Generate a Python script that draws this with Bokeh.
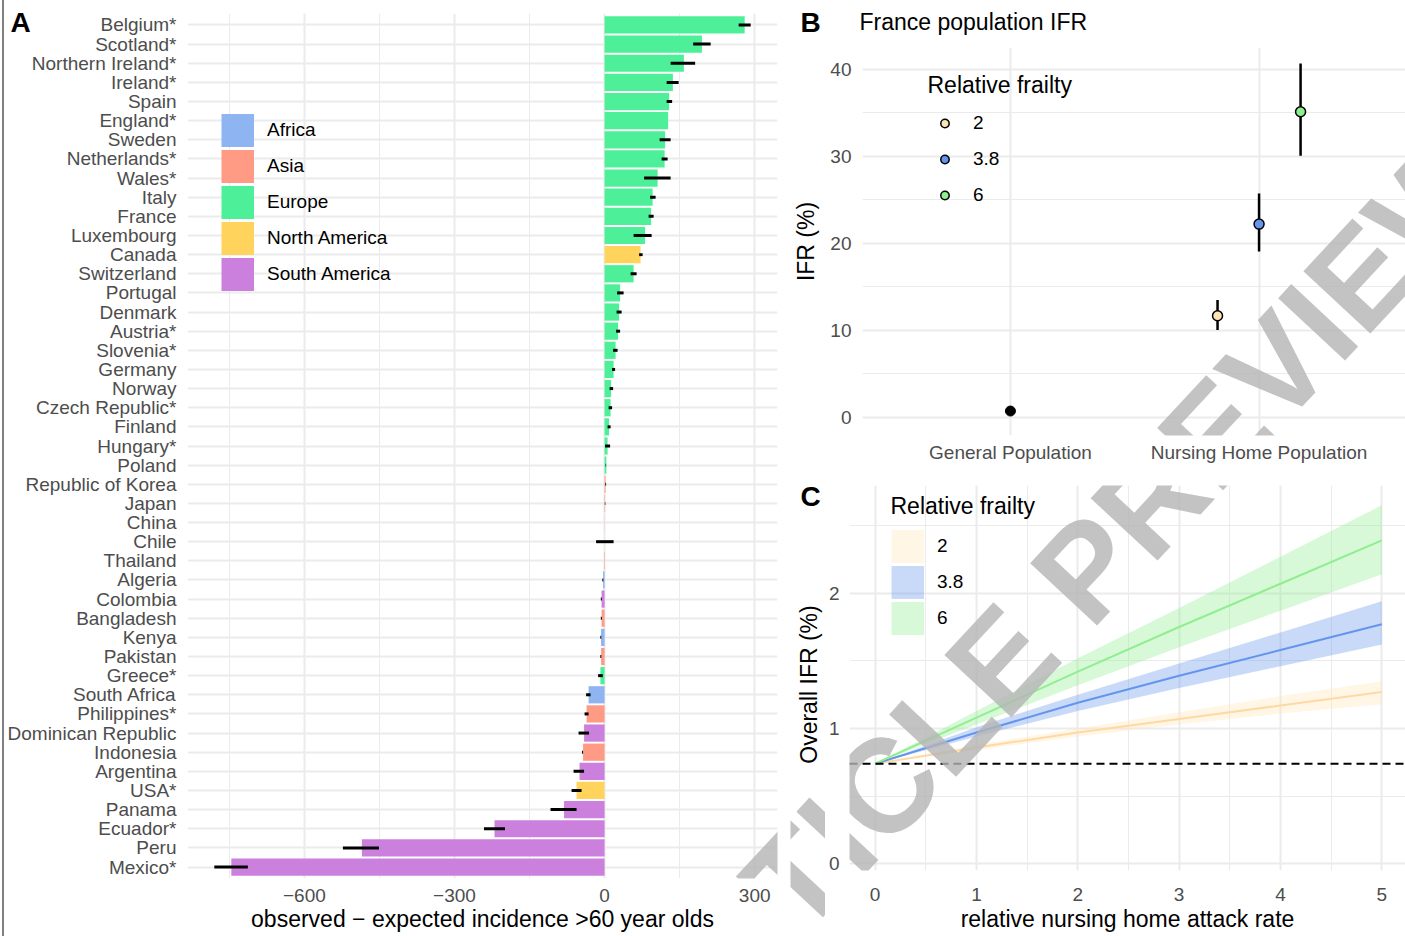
import math
from bokeh.plotting import figure
from bokeh.layouts import row, column
from bokeh.models import (ColumnDataSource, FactorRange, Range1d, FixedTicker,
                          Legend, LegendItem, Label, Span, Title)
from bokeh.embed import file_html
from bokeh.resources import INLINE

FONT = "Liberation Sans"
GRID = "#EBEBEB"
TICK = "#4D4D4D"
SMALL = "19px"
BIG = "23px"

# ---------------- Panel A data ----------------
countries = ["Belgium*", "Scotland*", "Northern Ireland*", "Ireland*", "Spain", "England*",
             "Sweden", "Netherlands*", "Wales*", "Italy", "France", "Luxembourg", "Canada",
             "Switzerland", "Portugal", "Denmark", "Austria*", "Slovenia*", "Germany", "Norway",
             "Czech Republic*", "Finland", "Hungary*", "Poland", "Republic of Korea", "Japan",
             "China", "Chile", "Thailand", "Algeria", "Colombia", "Bangladesh", "Kenya",
             "Pakistan", "Greece*", "South Africa", "Philippines*", "Dominican Republic",
             "Indonesia", "Argentina", "USA*", "Panama", "Ecuador*", "Peru", "Mexico*"]
continent = ["Europe", "Europe", "Europe", "Europe", "Europe", "Europe",
             "Europe", "Europe", "Europe", "Europe", "Europe", "Europe", "North America",
             "Europe", "Europe", "Europe", "Europe", "Europe", "Europe", "Europe",
             "Europe", "Europe", "Europe", "Europe", "Asia", "Asia",
             "Asia", "South America", "Asia", "Africa", "South America", "Asia", "Africa",
             "Asia", "Europe", "Africa", "Asia", "South America",
             "Asia", "South America", "North America", "South America", "South America",
             "South America", "South America"]
excess = [280, 194.5, 158.5, 136.5, 129, 127, 121, 120, 106, 96, 93, 81, 72, 58, 31,
          29, 27, 22, 18, 13, 12, 9, 6, 3.6, 2, 1, 0.3, 0, -1, -3, -6, -6, -7, -7,
          -8.4, -32, -36, -41, -43, -50, -56, -81, -220, -485, -746]
excess_lo = [268, 177, 132, 124, 124, 127, 110, 114, 79, 91, 88, 58, 69, 52, 25,
             24, 23, 17, 15, 10, 8, 6, 1, 2, 1.5, 0.5, 0.3, -17, -1, -4.5, -7.5, -7.5, -8.5, -8.5,
             -13, -37, -40, -52, -45, -62, -66, -108, -241, -523, -780]
excess_hi = [292, 212, 181, 148, 135, 127, 132, 126, 132, 102, 98, 94, 76, 64, 38,
             34, 31, 26, 21, 17, 15, 12, 11, 3, 3, 1.5, 0.3, 18, -1, -2.5, -5.5, -5.5, -6.5, -6.5,
             -3.6, -28, -32, -31, -43, -41, -46, -56, -199, -451, -713]

continents = ["Africa", "Asia", "Europe", "North America", "South America"]
continent_colors = ["#8EB4F2", "#FF9A85", "#4DF099", "#FFD35C", "#CC80DD"]

a_xticks = [-600, -300, 0, 300]
a_xtick_labels = ["\u2212600", "\u2212300", "0", "300"]
a_xminor = [-750, -450, -150, 150]

# ---------------- Panel B data ----------------
b_groups = ["General Population", "Nursing Home Population"]
gen_ifr = [0.74]
frailty_levels = ["2", "3.8", "6"]
frailty_colors = ["#FFE4B5", "#6495ED", "#90EE90"]
nh_ifr = [11.68, 22.2, 35.1]
nh_lo = [10.03, 19.06, 30.05]
nh_hi = [13.48, 25.72, 40.64]
b_yticks = [0, 10, 20, 30, 40]
b_yminor = [5, 15, 25, 35]

# ---------------- Panel C data ----------------
attack_rate = [0, 1, 2, 3, 4, 5]
ifr_line = {
    "2":   [0.74, 0.86, 0.97, 1.07, 1.17, 1.27],
    "3.8": [0.74, 0.97, 1.19, 1.39, 1.58, 1.77],
    "6":   [0.74, 1.08, 1.42, 1.75, 2.07, 2.39],
}
ifr_upper = {
    "2":   [0.74, 0.88, 1.00, 1.12, 1.24, 1.35],
    "3.8": [0.74, 1.01, 1.25, 1.48, 1.71, 1.94],
    "6":   [0.74, 1.13, 1.52, 1.89, 2.27, 2.65],
}
ifr_lower = {
    "2":   [0.74, 0.84, 0.94, 1.03, 1.11, 1.18],
    "3.8": [0.74, 0.94, 1.13, 1.30, 1.46, 1.62],
    "6":   [0.74, 1.03, 1.32, 1.60, 1.87, 2.14],
}
general_ifr_line = 0.739
c_line_colors = ["#FFD9A3", "#6495ED", "#90EE90"]
c_xticks = [0, 1, 2, 3, 4, 5]
c_xminor = [0.5, 1.5, 2.5, 3.5, 4.5]
c_yticks = [0, 1, 2]
c_yminor = [0.5, 1.5, 2.5]

WATERMARK = "ARTICLE PREVIEW"
WM_X, WM_Y = 1055, 600   # page position of the watermark's baseline centre


def no_align(p):
    try:
        p.frame_align = False
    except Exception:
        pass


def style_axes(p):
    p.outline_line_color = None
    p.background_fill_color = "white"
    p.border_fill_color = "white"
    for ax in p.axis:
        ax.axis_line_color = None
        ax.major_tick_line_color = None
        ax.minor_tick_line_color = None
        ax.major_tick_out = 0
        ax.major_tick_in = 0
        ax.minor_tick_out = 0
        ax.major_label_text_font = FONT
        ax.major_label_text_font_size = SMALL
        ax.major_label_text_color = TICK
        ax.axis_label_text_font = FONT
        ax.axis_label_text_font_size = BIG
        ax.axis_label_text_font_style = "normal"
        ax.axis_label_text_color = "black"
    for g in p.grid:
        g.grid_line_color = GRID
        g.grid_line_width = 2
        g.minor_grid_line_color = GRID
        g.minor_grid_line_width = 1
    no_align(p)


def blank_fig(w, h):
    f = figure(width=w, height=h, output_backend="svg", toolbar_location=None,
               x_axis_type=None, y_axis_type=None, min_border=0,
               x_range=Range1d(0, 1), y_range=Range1d(0, 1))
    f.outline_line_color = None
    f.grid.visible = False
    no_align(f)
    return f


def add_label(p, x, y, text, size, bold=False, color="black", angle=0.0, align="left"):
    p.add_layout(Label(x=x, y=y, x_units="screen", y_units="screen", text=text,
                       text_font=FONT, text_font_size=size,
                       text_font_style="bold" if bold else "normal", angle=angle,
                       text_color=color, text_align=align, text_baseline="middle"))


def add_watermark(p, frame_left, frame_bottom):
    p.add_layout(Label(x=WM_X - frame_left, y=frame_bottom - WM_Y,
                       x_units="screen", y_units="screen", text=WATERMARK,
                       angle=math.radians(47), text_font=FONT, text_font_size="133px",
                       text_font_style="bold", text_color="#B4B4B4", text_alpha=0.8,
                       text_align="center", text_baseline="alphabetic"))


def key_proxy(p, color, xs, ys, alpha=1.0):
    # off-screen renderer used only to draw a filled square legend key
    return p.line(x=xs, y=ys, line_color=color, line_alpha=alpha, line_width=33)


# ================= Panel A =================
A_W, A_H = 790, 936
A_L, A_R, A_T, A_B = 187, 13, 13, 58
A_FH = A_H - A_T - A_B
pa = figure(width=A_W, height=A_H, output_backend="svg", toolbar_location=None,
            y_range=FactorRange(factors=countries[::-1], range_padding=0.1,
                                range_padding_units="absolute"),
            x_range=Range1d(-833.6, 345.6),
            min_border_left=A_L, min_border_right=A_R, min_border_top=A_T,
            min_border_bottom=A_B)

items = []
for cont, col in zip(continents, continent_colors):
    idx = [i for i, c in enumerate(continent) if c == cont]
    src = ColumnDataSource(dict(country=[countries[i] for i in idx],
                                value=[excess[i] for i in idx]))
    pa.hbar(y="country", left=0, right="value", height=0.9, source=src,
            fill_color=col, line_color=None)
    proxy = key_proxy(pa, col, [5000, 5001], [countries[-1], countries[-1]])
    items.append(LegendItem(label=cont, renderers=[proxy]))

err_src = ColumnDataSource(dict(country=countries, lo=excess_lo, hi=excess_hi))
pa.segment(x0="lo", x1="hi", y0="country", y1="country", source=err_src,
           line_color="black", line_width=3)

tk = FixedTicker(ticks=a_xticks, minor_ticks=a_xminor)
pa.xaxis.ticker = tk
pa.xgrid.ticker = tk
pa.xaxis.major_label_overrides = dict(zip(a_xticks, a_xtick_labels))
pa.xaxis.axis_label = "observed \u2212 expected incidence >60 year olds"
style_axes(pa)
pa.xaxis.major_label_standoff = 10
pa.xaxis.axis_label_standoff = 1
pa.yaxis.major_label_standoff = 11

legA = Legend(items=items, location=(34, round(A_FH - 99.5 - 180)), glyph_width=33,
              glyph_height=36, spacing=0, label_standoff=13, padding=0, margin=0,
              border_line_color=None, background_fill_alpha=0, label_text_font=FONT,
              label_text_font_size=SMALL, label_text_color="black")
pa.add_layout(legA, "center")

try:
    tA = Title(text="A", align="left", offset=10 - A_L, standoff=-48, vertical_align="bottom",
               text_font=FONT, text_font_size="28px", text_font_style="bold",
               text_color="black")
except Exception:
    tA = Title(text="A", align="left", offset=10 - A_L, vertical_align="bottom",
               text_font=FONT, text_font_size="28px", text_font_style="bold",
               text_color="black")
pa.add_layout(tA, "above")
add_watermark(pa, A_L, A_T + A_FH)

# thin grey rule at the far left edge of the figure
try:
    pa.border_fill_alpha = 0
    pa.styles = {"background": "linear-gradient(to right, #ffffff 0px, #ffffff 2px, "
                               "#7f7f7f 2px, #7f7f7f 4px, #ffffff 4px, #ffffff 100%)"}
except Exception:
    pa.border_fill_alpha = 1

# ================= Panel B =================
RX = 790          # left of right column
RW = 615          # right column width
BH_H = 47
pbh = blank_fig(RW, BH_H)
add_label(pbh, 10, BH_H - 22, "B", "28px", bold=True)
add_label(pbh, 69, BH_H - 21, "France population IFR", BIG)
add_watermark(pbh, RX, BH_H)

B_H = 423
B_L, B_B = 69, 35
B_FH = B_H - B_B
pb = figure(width=RW, height=B_H, output_backend="svg", toolbar_location=None,
            x_range=Range1d(0.405, 0.405 + (RW - B_L) / 250.0),
            y_range=Range1d(-2.07, 42.48),
            min_border_left=B_L, min_border_right=0, min_border_top=0, min_border_bottom=B_B)

group_pos = {g: i + 1 for i, g in enumerate(b_groups)}
dodge = [-0.167, 0.0, 0.167]
nh_x = [group_pos["Nursing Home Population"] + d for d in dodge]

pb.segment(x0=nh_x, x1=nh_x, y0=nh_lo, y1=nh_hi, line_color="black", line_width=2.5)
pb.scatter(x=[group_pos["General Population"]], y=gen_ifr, size=10, fill_color="black",
           line_color="black")
itemsB = []
for i, lev in enumerate(frailty_levels):
    r = pb.scatter(x=[nh_x[i]], y=[nh_ifr[i]], size=10, fill_color=frailty_colors[i],
                   line_color="black", line_width=1.5)
    itemsB.append(LegendItem(label=lev, renderers=[r]))

tkb = FixedTicker(ticks=[1, 2])
pb.xaxis.ticker = tkb
pb.xgrid.ticker = tkb
pb.xaxis.major_label_overrides = {group_pos[g]: g for g in b_groups}
tkby = FixedTicker(ticks=b_yticks, minor_ticks=b_yminor)
pb.yaxis.ticker = tkby
pb.ygrid.ticker = tkby
pb.yaxis.axis_label = "IFR (%)"
style_axes(pb)
pb.xgrid.minor_grid_line_color = None
pb.xaxis.major_label_standoff = 6
pb.yaxis.major_label_standoff = 11
pb.yaxis.axis_label_standoff = 8

legB = Legend(items=itemsB, location=(72, B_FH - 58 - 108), glyph_width=21, glyph_height=36,
              spacing=0, label_standoff=18, padding=0, margin=0, border_line_color=None,
              background_fill_alpha=0, label_text_font=FONT, label_text_font_size=SMALL,
              label_text_color="black")
pb.add_layout(legB, "center")
add_label(pb, 65, B_FH - (84 - BH_H), "Relative frailty", BIG)
add_watermark(pb, RX + B_L, BH_H + B_FH)

# ================= Panel C =================
C_TOP = BH_H + B_H      # 470
C_H = 466
CL_W = 35
C_L, C_T, C_B = 22, 15, 66
C_FH = C_H - C_T - C_B
pcl = blank_fig(CL_W, C_H)
add_label(pcl, 10, C_H - (496 - C_TOP), "C", "28px", bold=True)
add_label(pcl, 18, C_H - (684 - C_TOP), "Overall IFR (%)", BIG, angle=math.pi / 2,
          align="center")
add_watermark(pcl, RX, C_TOP + C_H)

CW = RW - CL_W
C_FRAME_BOTTOM = C_TOP + C_T + C_FH
pc = figure(width=CW, height=C_H, output_backend="svg", toolbar_location=None,
            x_range=Range1d(-0.253, -0.253 + (CW - C_L) / 101.7),
            y_range=Range1d((863.3 - C_FRAME_BOTTOM) / 135.3, (863.3 - (C_TOP + C_T)) / 135.3),
            min_border_left=C_L, min_border_right=0, min_border_top=C_T, min_border_bottom=C_B)

itemsC = []
for lev, col in zip(frailty_levels, frailty_colors):
    pc.varea(x=attack_rate, y1=ifr_lower[lev], y2=ifr_upper[lev], fill_color=col,
             fill_alpha=0.35)
    proxy = key_proxy(pc, col, [100, 101], [100, 100], 0.35)
    itemsC.append(LegendItem(label=lev, renderers=[proxy]))
for lev, col in zip(frailty_levels, c_line_colors):
    pc.line(x=attack_rate, y=ifr_line[lev], line_color=col, line_width=2)

pc.add_layout(Span(location=general_ifr_line, dimension="width", line_color="black",
                   line_width=2, line_dash="8 5"))

tkcx = FixedTicker(ticks=c_xticks, minor_ticks=c_xminor)
pc.xaxis.ticker = tkcx
pc.xgrid.ticker = tkcx
tkcy = FixedTicker(ticks=c_yticks, minor_ticks=c_yminor)
pc.yaxis.ticker = tkcy
pc.ygrid.ticker = tkcy
pc.xaxis.axis_label = "relative nursing home attack rate"
style_axes(pc)
pc.xaxis.major_label_standoff = 17
pc.xaxis.axis_label_standoff = 2
pc.yaxis.major_label_standoff = 10

legC = Legend(items=itemsC, location=(42, round(C_FH - 42.5 - 108)), glyph_width=33,
              glyph_height=36, spacing=0, label_standoff=13, padding=0, margin=0,
              border_line_color=None, background_fill_alpha=0, label_text_font=FONT,
              label_text_font_size=SMALL, label_text_color="black")
pc.add_layout(legC, "center")
add_label(pc, 41, C_FRAME_BOTTOM - 505, "Relative frailty", BIG)
add_watermark(pc, RX + CL_W + C_L, C_FRAME_BOTTOM)

right_col = column(pbh, pb, row(pcl, pc))
layout = row(pa, right_col)
no_align(layout)
open("out.html", "w").write(file_html(layout, INLINE))
